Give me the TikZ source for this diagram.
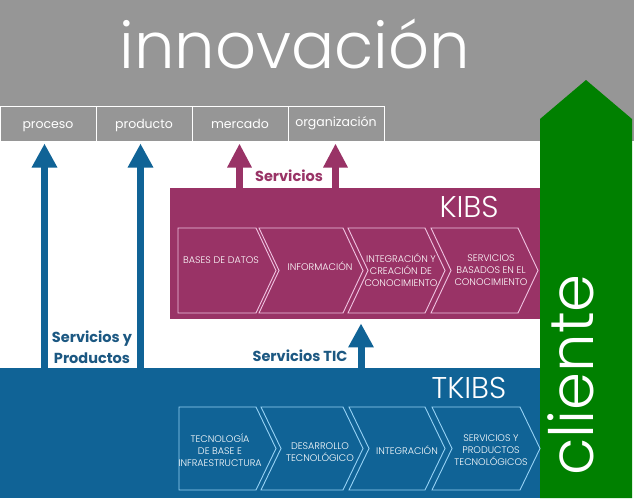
\documentclass[tikz,border=0pt]{standalone}
\usepackage{fontspec}
\setmainfont{Poppins}
\newfontfamily\lightfont{Poppins Light}
\usetikzlibrary{arrows.meta}
\definecolor{greyband}{RGB}{150,150,150}
\definecolor{kibscol}{RGB}{153,51,102}
\definecolor{tkibscol}{RGB}{16,99,150}
\definecolor{cgreen}{RGB}{0,128,0}
\definecolor{lblblue}{RGB}{28,88,130}
\definecolor{kline}{RGB}{240,195,225}
\definecolor{tline}{RGB}{150,210,245}
\newcommand\chevshape[6]{%
  \draw[#6] (#1,#3) -- ({#2-20},#3) -- (#2,{(#3+#4)/2}) -- ({#2-20},#4) -- (#1,#4) -- ({#1+#5},{(#3+#4)/2}) -- cycle;}
\begin{document}
\begin{tikzpicture}[x=1pt,y=-1pt,
  catbox/.style={draw=white,line width=1pt,minimum width=96pt,minimum height=35pt,inner sep=0pt,
    text height=10pt,text depth=1pt,text=white,font=\fontsize{12.5}{14}\selectfont},
  chevtext/.style={text=white,align=center,inner sep=0pt,font=\lightfont\fontsize{9.6}{12}\selectfont},
  barrow/.style={tkibscol,line width=7pt,-{Triangle[width=24pt,length=24pt]}},
  marrow/.style={kibscol,line width=7pt,-{Triangle[width=23pt,length=24pt]}},
  blbl/.style={text=lblblue,font=\bfseries\fontsize{14.5}{21}\selectfont,align=center,inner sep=0pt},
  mlbl/.style={text=kibscol,font=\bfseries\fontsize{14.5}{21}\selectfont,inner sep=0pt}]
\useasboundingbox (0,0) rectangle (634,503);
\fill[white] (0,0) rectangle (634,503);
% grey band
\fill[greyband] (0,0) rectangle (634,141);
\node[text=white,anchor=base,inner sep=0pt,font=\lightfont\fontsize{64}{64}\selectfont] (title) at (295,68) {innovación};
% category boxes
\node[catbox] (proceso) at (48,123.5) {proceso};
\node[catbox] (producto) at (144,123.5) {producto};
\node[catbox] (mercado) at (240,123.5) {mercado};
\node[catbox,text depth=5pt] (organiz) at (336,123.5) {organización};
% KIBS box
\node[fill=kibscol,minimum width=370pt,minimum height=131pt,inner sep=0pt,anchor=north west] (kibs) at (170,188) {};
\node[text=white,anchor=base,inner sep=0pt,font=\lightfont\fontsize{30}{30}\selectfont] (kibslbl) at (469,217) {KIBS};
% TKIBS band
\node[fill=tkibscol,minimum width=540pt,minimum height=130pt,inner sep=0pt,anchor=north west] (tkibs) at (0,368) {};
\node[text=white,anchor=base,inner sep=0pt,font=\lightfont\fontsize{30}{30}\selectfont] (tkibslbl) at (469,398) {TKIBS};
% green client arrow
\fill[cgreen] (540,498) -- (540,119) -- (586,80) -- (632,119) -- (632,498) -- cycle;
\node[rotate=90,anchor=base,text=white,inner sep=0pt,font=\lightfont\fontsize{61}{61}\selectfont] (cliente) at (593,375) {cliente};
% KIBS chevrons
\chevshape{178}{276}{228}{313}{0}{kline,line width=0.9pt}
\chevshape{259}{363}{228}{313}{20}{kline,line width=0.9pt}
\chevshape{348}{445}{228}{313}{20}{kline,line width=0.9pt}
\chevshape{431}{538}{228}{313}{20}{kline,line width=0.9pt}
\node[chevtext] (k1) at (221,260) {BASES DE DATOS};
\node[chevtext] (k2) at (320,266) {INFORMACIÓN};
\node[chevtext] (k3) at (401,270) {INTEGRACIÓN Y\\CREACIÓN DE\\CONOCIMIENTO};
\node[chevtext] (k4) at (491,270.5) {SERVICIOS\\BASADOS EN EL\\CONOCIMIENTO};
% TKIBS chevrons
\chevshape{179}{276}{407}{490}{0}{tline,line width=0.9pt}
\chevshape{261}{363}{407}{490}{20}{tline,line width=0.9pt}
\chevshape{349}{445}{407}{490}{20}{tline,line width=0.9pt}
\chevshape{432}{540}{407}{490}{20}{tline,line width=0.9pt}
\node[chevtext] (t1) at (220,450) {TECNOLOGÍA\\DE BASE E\\INFRAESTRUCTURA};
\node[chevtext] (t2) at (320,452) {DESARROLLO\\TECNOLÓGICO};
\node[chevtext] (t3) at (407,450) {INTEGRACIÓN};
\node[chevtext] (t4) at (491,450) {SERVICIOS Y\\PRODUCTOS\\TECNOLÓGICOS};
% arrows
\coordinate (pa) at (44.5,368);
\coordinate (pb) at (140.5,368);
\draw[barrow,shorten >=2pt] (pa) -- (pa |- proceso.south);
\draw[barrow,shorten >=2pt] (pb) -- (pb |- producto.south);
\coordinate (ma) at (239.5,188);
\coordinate (mb) at (335.5,188);
\draw[marrow,shorten >=2pt] (ma) -- (ma |- mercado.south);
\draw[marrow,shorten >=2pt] (mb) -- (mb |- organiz.south);
\coordinate (tic) at (361,368);
\draw[barrow,shorten >=4pt] (tic) -- (tic |- kibs.south);
% labels
\node[mlbl] (servlbl) at (289,176) {Servicios};
\node[blbl] (sprod) at (92,347) {Servicios y\\Productos};
\node[blbl] (stic) at (300,356) {Servicios TIC};
\end{tikzpicture}
\end{document}
